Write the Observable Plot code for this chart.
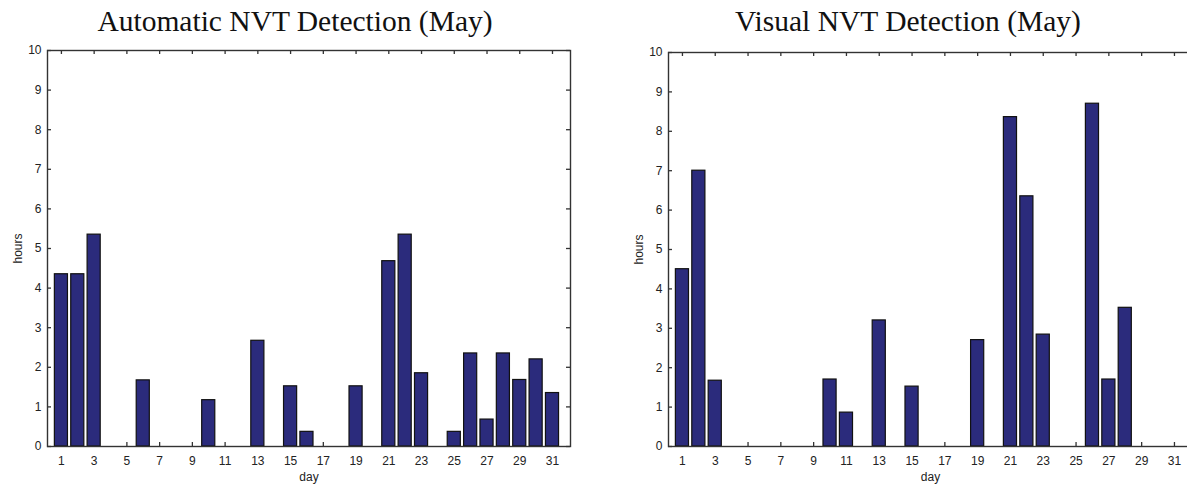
<!DOCTYPE html>
<html>
<head>
<meta charset="utf-8">
<script src="https://cdn.jsdelivr.net/npm/d3@7"></script>
<script src="https://cdn.jsdelivr.net/npm/@observablehq/plot@0.6"></script>
<style>
  html, body { margin: 0; padding: 0; background: #fff; overflow: hidden; width: 1187px; height: 485px; }
  .panel { position: absolute; top: 0; }
  .title { position: absolute; top: 5px; font-family: "Liberation Serif", "Times New Roman", serif; font-size: 29.5px; line-height: 32px; text-align: center; color: #111; white-space: nowrap; }
  .chart { position: absolute; top: 40px; left: 0; }
</style>
</head>
<body>
<div class="panel" id="p1" style="left:0px;width:600px;"><div class="title" style="left:0;width:590px;">Automatic NVT Detection (May)</div><div class="chart" id="c1"></div></div>
<div class="panel" id="p2" style="left:620px;width:600px;"><div class="title" style="left:0;width:576px;">Visual NVT Detection (May)</div><div class="chart" id="c2"></div></div>
<script>
// Data
const autoDays  = [1, 2, 3, 6, 10, 13, 15, 16, 19, 21, 22, 23, 25, 26, 27, 28, 29, 30, 31];
const autoHours = [4.35, 4.35, 5.35, 1.67, 1.17, 2.67, 1.52, 0.37, 1.52, 4.68, 5.35, 1.85, 0.37, 2.35, 0.68, 2.35, 1.68, 2.2, 1.35];
const visualDays  = [1, 2, 3, 10, 11, 13, 15, 19, 21, 22, 23, 26, 27, 28];
const visualHours = [4.5, 7.0, 1.67, 1.7, 0.86, 3.2, 1.52, 2.7, 8.36, 6.35, 2.84, 8.7, 1.7, 3.52];
const xTicks = [1, 3, 5, 7, 9, 11, 13, 15, 17, 19, 21, 23, 25, 27, 29, 31];
const yTicks = [0, 1, 2, 3, 4, 5, 6, 7, 8, 9, 10];

const barFill = "#2b2b7c";
const axisColor = "#333";

function makeChart(days, hours, opts) {
  const data = days.map((d, i) => ({day: d, hours: hours[i]}));
  const plotW = opts.width - opts.marginLeft - opts.marginRight;
  const plotH = opts.height - opts.marginTop - opts.marginBottom;
  return Plot.plot({
    width: opts.width,
    height: opts.height,
    marginLeft: opts.marginLeft,
    marginRight: opts.marginRight,
    marginTop: opts.marginTop,
    marginBottom: opts.marginBottom,
    style: {fontFamily: "'Liberation Sans', Arial, sans-serif", fontSize: "12px", color: "#222", background: "white"},
    x: {domain: [0.15, 32.1]},
    y: {domain: [0, 10]},
    marks: [
      // inward ticks on all four sides
      Plot.tickX(xTicks, {x: d => d, insetTop: plotH - 4, stroke: axisColor, strokeWidth: 1.3}),
      Plot.tickX(xTicks, {x: d => d, insetBottom: plotH - 4, stroke: axisColor, strokeWidth: 1.3}),
      Plot.tickY(yTicks, {y: d => d, insetRight: plotW - 4, stroke: axisColor, strokeWidth: 1.3}),
      Plot.tickY(yTicks, {y: d => d, insetLeft: plotW - 4, stroke: axisColor, strokeWidth: 1.3}),
      Plot.rectY(data, {x1: d => d.day - 0.4, x2: d => d.day + 0.4, y: "hours", fill: barFill, stroke: "#111", strokeWidth: 1.2}),
      Plot.frame({stroke: axisColor, strokeWidth: 1.4}),
      Plot.axisX({ticks: xTicks, tickSize: 0, tickPadding: 10, label: "day", labelAnchor: "center", labelOffset: 34, labelArrow: "none", fontSize: 12}),
      Plot.axisY({ticks: yTicks, tickSize: 0, tickPadding: 6, label: "hours", labelAnchor: "center", labelOffset: 34, labelArrow: "none", fontSize: 12})
    ]
  });
}

document.getElementById("c1").append(makeChart(autoDays, autoHours, {width: 600, height: 445, marginLeft: 47, marginRight: 30, marginTop: 10, marginBottom: 39}));
document.getElementById("c2").append(makeChart(visualDays, visualHours, {width: 600, height: 445, marginLeft: 48, marginRight: 28, marginTop: 12, marginBottom: 39}));
</script>
</body>
</html>
